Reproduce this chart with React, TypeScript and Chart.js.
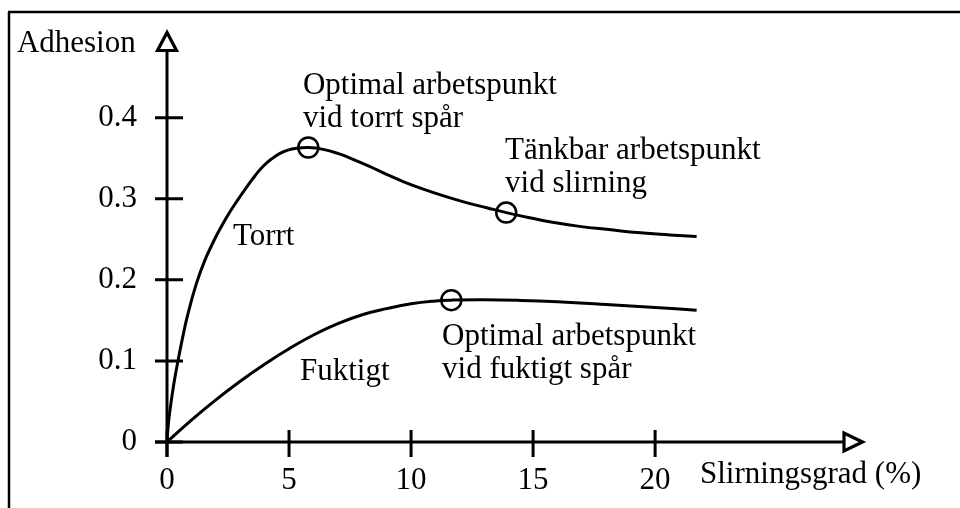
import React, { useEffect, useRef } from "react";
import { Chart, registerables } from "chart.js";

Chart.register(...registerables);

// ---- data ----
const torrtX = [0, 0.04, 0.1, 0.2, 0.32, 0.45, 0.62, 0.85, 1.2, 1.55, 1.9, 2.25, 2.58, 2.93, 3.27, 3.6, 3.95, 4.3, 4.63, 4.95, 5.3, 5.79, 6.4, 7.0, 7.6, 8.3, 9.0, 9.7, 10.5, 11.4, 12.3, 13.1, 13.9, 14.8, 15.8, 16.9, 18.1, 19.4, 20.6, 21.7];
const torrtY = [0, 0.017, 0.034, 0.056, 0.079, 0.1, 0.126, 0.157, 0.195, 0.224, 0.247, 0.267, 0.284, 0.3, 0.3148, 0.3282, 0.3405, 0.3495, 0.356, 0.36, 0.3623, 0.3633, 0.361, 0.356, 0.349, 0.34, 0.33, 0.321, 0.312, 0.303, 0.295, 0.289, 0.283, 0.277, 0.271, 0.266, 0.262, 0.258, 0.2555, 0.2535];

const fuktigtX = [0, 1, 2, 3, 4, 5, 6, 7, 8, 9, 10, 11, 11.65, 13, 14.5, 16, 18, 20, 21.7];
const fuktigtY = [0, 0.027, 0.052, 0.075, 0.096, 0.115, 0.132, 0.146, 0.157, 0.1645, 0.1705, 0.174, 0.175, 0.1755, 0.1747, 0.173, 0.1697, 0.166, 0.1625];

const pointX = [5.79, 13.9, 11.65];
const pointY = [0.3633, 0.283, 0.175];

const xTicks = [0, 5, 10, 15, 20];
const yTicks = [0, 0.1, 0.2, 0.3, 0.4];
const xLimits = [0, 28.6];
const yLimits = [0, 0.507];

const textLabels = [
  { lines: ["Adhesion"], x: -6.15, y: 0.4815 },
  { lines: ["Optimal arbetspunkt", "vid torrt spår"], x: 5.57, y: 0.4296 },
  { lines: ["Tänkbar arbetspunkt", "vid slirning"], x: 13.85, y: 0.3494 },
  { lines: ["Torrt"], x: 2.7, y: 0.2432 },
  { lines: ["Fuktigt"], x: 5.45, y: 0.0765 },
  { lines: ["Optimal arbetspunkt", "vid fuktigt spår"], x: 11.27, y: 0.1198 },
  { lines: ["Slirningsgrad (%)"], x: 21.84, y: -0.0506 },
];

const FONT_FAMILY = '"Liberation Serif", "Times New Roman", serif';
const FONT_SIZE = 31;

const axesPlugin = {
  id: "axesDraw",
  beforeDatasetsDraw(chart: any) {
    const ctx = chart.ctx;
    const xs = chart.scales.x;
    const ys = chart.scales.y;
    const x0 = xs.getPixelForValue(0);
    const y0 = ys.getPixelForValue(0);
    const xEnd = xs.right;
    const yEnd = ys.top;
    ctx.save();
    ctx.strokeStyle = "#000";
    // frame
    ctx.lineWidth = 2.5;
    ctx.beginPath();
    ctx.moveTo(8, 12);
    ctx.lineTo(chart.width, 12);
    ctx.moveTo(9, 12);
    ctx.lineTo(9, chart.height);
    ctx.stroke();
    // axes
    ctx.lineWidth = 3;
    ctx.beginPath();
    ctx.moveTo(x0 - 12, y0);
    ctx.lineTo(xEnd - 21, y0);
    ctx.moveTo(x0, y0 + 15);
    ctx.lineTo(x0, yEnd + 20);
    ctx.stroke();
    // ticks
    ctx.beginPath();
    yTicks.forEach((v) => {
      const p = ys.getPixelForValue(v);
      ctx.moveTo(x0 - 12, p);
      ctx.lineTo(x0 + 16, p);
    });
    xTicks.forEach((v) => {
      const p = xs.getPixelForValue(v);
      ctx.moveTo(p, y0 - 12);
      ctx.lineTo(p, y0 + 15);
    });
    ctx.stroke();
    // arrows
    ctx.fillStyle = "#fff";
    ctx.lineJoin = "miter";
    ctx.lineWidth = 3.2;
    ctx.beginPath();
    ctx.moveTo(x0, yEnd + 1.5);
    ctx.lineTo(x0 - 9.5, yEnd + 19.5);
    ctx.lineTo(x0 + 9.5, yEnd + 19.5);
    ctx.closePath();
    ctx.fill();
    ctx.stroke();
    ctx.beginPath();
    ctx.moveTo(xEnd - 2.5, y0);
    ctx.lineTo(xEnd - 21, y0 - 9);
    ctx.lineTo(xEnd - 21, y0 + 9);
    ctx.closePath();
    ctx.fill();
    ctx.stroke();
    ctx.restore();
  },
  afterDatasetsDraw(chart: any) {
    const ctx = chart.ctx;
    const xs = chart.scales.x;
    const ys = chart.scales.y;
    ctx.save();
    ctx.fillStyle = "#000";
    ctx.font = `${FONT_SIZE}px ${FONT_FAMILY}`;
    ctx.textAlign = "left";
    ctx.textBaseline = "alphabetic";
    textLabels.forEach((t) => {
      const px = xs.getPixelForValue(t.x);
      const py = ys.getPixelForValue(t.y);
      t.lines.forEach((line, i) => ctx.fillText(line, px, py + i * 33));
    });
    ctx.restore();
  },
};

export default function App() {
  const ref = useRef<HTMLCanvasElement | null>(null);
  useEffect(() => {
    if (!ref.current) return;
    const chart = new Chart(ref.current, {
      type: "scatter",
      data: {
        datasets: [
          {
            label: "Torrt",
            data: torrtX.map((x, i) => ({ x, y: torrtY[i] })),
            showLine: true,
            borderColor: "#000",
            borderWidth: 3,
            pointRadius: 0,
            tension: 0.45,
            fill: false,
          },
          {
            label: "Fuktigt",
            data: fuktigtX.map((x, i) => ({ x, y: fuktigtY[i] })),
            showLine: true,
            borderColor: "#000",
            borderWidth: 3,
            pointRadius: 0,
            tension: 0.45,
            fill: false,
          },
          {
            label: "Arbetspunkter",
            data: pointX.map((x, i) => ({ x, y: pointY[i] })),
            showLine: false,
            pointStyle: "circle",
            pointRadius: 10,
            pointBorderWidth: 2.5,
            pointBorderColor: "#000",
            pointBackgroundColor: "rgba(0,0,0,0)",
          },
        ],
      },
      options: {
        animation: false,
        responsive: false,
        events: [],
        layout: { padding: { top: 31, right: 95, left: 0, bottom: 0 } },
        plugins: { legend: { display: false }, tooltip: { enabled: false } },
        scales: {
          x: {
            type: "linear",
            min: xLimits[0],
            max: xLimits[1],
            grid: { display: false },
            border: { display: false },
            afterBuildTicks: (s: any) => {
              s.ticks = xTicks.map((v) => ({ value: v }));
            },
            afterFit: (s: any) => {
              s.height = 66;
              s.paddingLeft = 0;
              s.paddingRight = 0;
            },
            ticks: {
              padding: 12,
              color: "#000",
              maxRotation: 0,
              autoSkip: false,
              font: { family: FONT_FAMILY, size: FONT_SIZE },
              callback: (v: any) => String(v),
            },
          },
          y: {
            type: "linear",
            min: yLimits[0],
            max: yLimits[1],
            grid: { display: false },
            border: { display: false },
            afterBuildTicks: (s: any) => {
              s.ticks = yTicks.map((v) => ({ value: v }));
            },
            afterFit: (s: any) => {
              s.width = 167;
              s.paddingTop = 0;
              s.paddingBottom = 0;
            },
            ticks: {
              padding: 22,
              color: "#000",
              autoSkip: false,
              font: { family: FONT_FAMILY, size: FONT_SIZE },
              callback: (v: any) => String(Math.round(v * 10) / 10),
            },
          },
        },
      },
      plugins: [axesPlugin],
    } as any);
    return () => chart.destroy();
  }, []);
  return (
    <div style={{ position: "fixed", left: 0, top: 0, width: 960, height: 508, background: "#fff" }}>
      <canvas ref={ref} width={960} height={508} style={{ width: 960, height: 508, display: "block" }} />
    </div>
  );
}
